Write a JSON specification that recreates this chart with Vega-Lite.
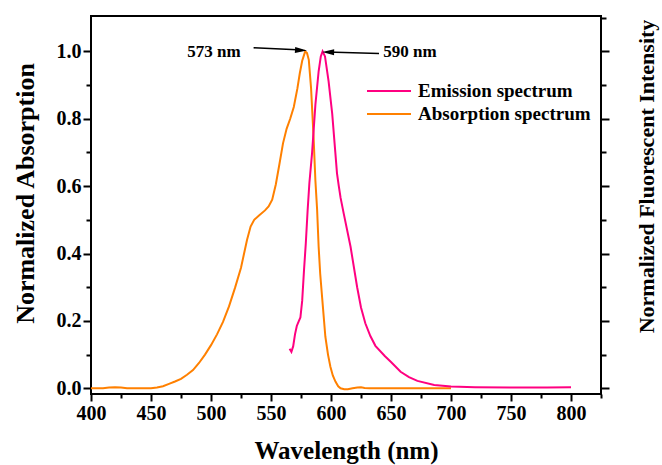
{
  "$schema": "https://vega.github.io/schema/vega-lite/v6.json",
  "width": 510,
  "height": 378,
  "autosize": {"type": "none"},
  "padding": {"left": 91, "top": 16, "right": 61, "bottom": 71},
  "background": "white",
  "config": {
    "view": {"stroke": "black", "strokeWidth": 2},
    "axis": {
      "labelFont": "Liberation Serif", "labelFontWeight": "bold", "labelColor": "black",
      "titleFont": "Liberation Serif", "titleFontWeight": "bold", "titleColor": "black",
      "domain": false, "grid": false, "tickColor": "black", "tickWidth": 2, "labelFlush": false
    },
    "text": {"font": "Liberation Serif", "fontWeight": "bold", "fontSize": 17, "color": "black"}
  },
  "datasets": {
    "spectra": [
      {"series": "Absorption spectrum", "wavelength": 400, "value": 0.0},
      {"series": "Absorption spectrum", "wavelength": 410, "value": 0.0},
      {"series": "Absorption spectrum", "wavelength": 415, "value": 0.002},
      {"series": "Absorption spectrum", "wavelength": 420, "value": 0.003},
      {"series": "Absorption spectrum", "wavelength": 425, "value": 0.002},
      {"series": "Absorption spectrum", "wavelength": 430, "value": 0.0},
      {"series": "Absorption spectrum", "wavelength": 440, "value": 0.0},
      {"series": "Absorption spectrum", "wavelength": 450, "value": 0.0},
      {"series": "Absorption spectrum", "wavelength": 455, "value": 0.002},
      {"series": "Absorption spectrum", "wavelength": 460, "value": 0.006},
      {"series": "Absorption spectrum", "wavelength": 465, "value": 0.013},
      {"series": "Absorption spectrum", "wavelength": 470, "value": 0.02},
      {"series": "Absorption spectrum", "wavelength": 475, "value": 0.028},
      {"series": "Absorption spectrum", "wavelength": 480, "value": 0.04},
      {"series": "Absorption spectrum", "wavelength": 485, "value": 0.054},
      {"series": "Absorption spectrum", "wavelength": 490, "value": 0.075},
      {"series": "Absorption spectrum", "wavelength": 495, "value": 0.1},
      {"series": "Absorption spectrum", "wavelength": 500, "value": 0.128},
      {"series": "Absorption spectrum", "wavelength": 505, "value": 0.16},
      {"series": "Absorption spectrum", "wavelength": 510, "value": 0.197},
      {"series": "Absorption spectrum", "wavelength": 515, "value": 0.243},
      {"series": "Absorption spectrum", "wavelength": 520, "value": 0.298},
      {"series": "Absorption spectrum", "wavelength": 525, "value": 0.358},
      {"series": "Absorption spectrum", "wavelength": 530, "value": 0.44},
      {"series": "Absorption spectrum", "wavelength": 533, "value": 0.48},
      {"series": "Absorption spectrum", "wavelength": 536, "value": 0.5},
      {"series": "Absorption spectrum", "wavelength": 540, "value": 0.513},
      {"series": "Absorption spectrum", "wavelength": 545, "value": 0.528},
      {"series": "Absorption spectrum", "wavelength": 548, "value": 0.54},
      {"series": "Absorption spectrum", "wavelength": 551, "value": 0.56},
      {"series": "Absorption spectrum", "wavelength": 554, "value": 0.605},
      {"series": "Absorption spectrum", "wavelength": 557, "value": 0.665},
      {"series": "Absorption spectrum", "wavelength": 560, "value": 0.727},
      {"series": "Absorption spectrum", "wavelength": 563, "value": 0.77},
      {"series": "Absorption spectrum", "wavelength": 566, "value": 0.8},
      {"series": "Absorption spectrum", "wavelength": 569, "value": 0.835},
      {"series": "Absorption spectrum", "wavelength": 572, "value": 0.89},
      {"series": "Absorption spectrum", "wavelength": 574, "value": 0.935},
      {"series": "Absorption spectrum", "wavelength": 576, "value": 0.972},
      {"series": "Absorption spectrum", "wavelength": 578.5, "value": 1.0},
      {"series": "Absorption spectrum", "wavelength": 580, "value": 0.995},
      {"series": "Absorption spectrum", "wavelength": 581.5, "value": 0.975},
      {"series": "Absorption spectrum", "wavelength": 583.4, "value": 0.89},
      {"series": "Absorption spectrum", "wavelength": 585.5, "value": 0.744},
      {"series": "Absorption spectrum", "wavelength": 587, "value": 0.616},
      {"series": "Absorption spectrum", "wavelength": 588.4, "value": 0.532},
      {"series": "Absorption spectrum", "wavelength": 589.7, "value": 0.42},
      {"series": "Absorption spectrum", "wavelength": 591, "value": 0.34},
      {"series": "Absorption spectrum", "wavelength": 592.6, "value": 0.27},
      {"series": "Absorption spectrum", "wavelength": 595.3, "value": 0.153},
      {"series": "Absorption spectrum", "wavelength": 597.5, "value": 0.1},
      {"series": "Absorption spectrum", "wavelength": 599.5, "value": 0.064},
      {"series": "Absorption spectrum", "wavelength": 601.5, "value": 0.038},
      {"series": "Absorption spectrum", "wavelength": 603.7, "value": 0.02},
      {"series": "Absorption spectrum", "wavelength": 606, "value": 0.006},
      {"series": "Absorption spectrum", "wavelength": 608, "value": 0.0},
      {"series": "Absorption spectrum", "wavelength": 611, "value": -0.003},
      {"series": "Absorption spectrum", "wavelength": 614, "value": -0.003},
      {"series": "Absorption spectrum", "wavelength": 618, "value": 0.0},
      {"series": "Absorption spectrum", "wavelength": 622, "value": 0.002},
      {"series": "Absorption spectrum", "wavelength": 625, "value": 0.003},
      {"series": "Absorption spectrum", "wavelength": 628, "value": 0.001},
      {"series": "Absorption spectrum", "wavelength": 632, "value": 0.0},
      {"series": "Absorption spectrum", "wavelength": 650, "value": 0.0},
      {"series": "Absorption spectrum", "wavelength": 700, "value": 0.0},
      {"series": "Emission spectrum", "wavelength": 565.5, "value": 0.117},
      {"series": "Emission spectrum", "wavelength": 567, "value": 0.108},
      {"series": "Emission spectrum", "wavelength": 568.5, "value": 0.125},
      {"series": "Emission spectrum", "wavelength": 570, "value": 0.16},
      {"series": "Emission spectrum", "wavelength": 571.5, "value": 0.185},
      {"series": "Emission spectrum", "wavelength": 573, "value": 0.198},
      {"series": "Emission spectrum", "wavelength": 574.5, "value": 0.21},
      {"series": "Emission spectrum", "wavelength": 576, "value": 0.26},
      {"series": "Emission spectrum", "wavelength": 577.5, "value": 0.35},
      {"series": "Emission spectrum", "wavelength": 579, "value": 0.43},
      {"series": "Emission spectrum", "wavelength": 580.5, "value": 0.527},
      {"series": "Emission spectrum", "wavelength": 582, "value": 0.61},
      {"series": "Emission spectrum", "wavelength": 584.2, "value": 0.697},
      {"series": "Emission spectrum", "wavelength": 587, "value": 0.842},
      {"series": "Emission spectrum", "wavelength": 589.7, "value": 0.941},
      {"series": "Emission spectrum", "wavelength": 591.5, "value": 0.985},
      {"series": "Emission spectrum", "wavelength": 593, "value": 1.0},
      {"series": "Emission spectrum", "wavelength": 595, "value": 0.985},
      {"series": "Emission spectrum", "wavelength": 598, "value": 0.911},
      {"series": "Emission spectrum", "wavelength": 601, "value": 0.815},
      {"series": "Emission spectrum", "wavelength": 603.6, "value": 0.7},
      {"series": "Emission spectrum", "wavelength": 605, "value": 0.638},
      {"series": "Emission spectrum", "wavelength": 606.5, "value": 0.6},
      {"series": "Emission spectrum", "wavelength": 608, "value": 0.565},
      {"series": "Emission spectrum", "wavelength": 610.7, "value": 0.517},
      {"series": "Emission spectrum", "wavelength": 616.3, "value": 0.42},
      {"series": "Emission spectrum", "wavelength": 621.8, "value": 0.3},
      {"series": "Emission spectrum", "wavelength": 625, "value": 0.24},
      {"series": "Emission spectrum", "wavelength": 628.6, "value": 0.193},
      {"series": "Emission spectrum", "wavelength": 632.8, "value": 0.155},
      {"series": "Emission spectrum", "wavelength": 637, "value": 0.126},
      {"series": "Emission spectrum", "wavelength": 645, "value": 0.095},
      {"series": "Emission spectrum", "wavelength": 650, "value": 0.078},
      {"series": "Emission spectrum", "wavelength": 658, "value": 0.049},
      {"series": "Emission spectrum", "wavelength": 665, "value": 0.033},
      {"series": "Emission spectrum", "wavelength": 672, "value": 0.022},
      {"series": "Emission spectrum", "wavelength": 686, "value": 0.01},
      {"series": "Emission spectrum", "wavelength": 700, "value": 0.005},
      {"series": "Emission spectrum", "wavelength": 720, "value": 0.003},
      {"series": "Emission spectrum", "wavelength": 750, "value": 0.002},
      {"series": "Emission spectrum", "wavelength": 780, "value": 0.002},
      {"series": "Emission spectrum", "wavelength": 800, "value": 0.003}
    ],
    "labels": [
      {"text": "573 nm", "wavelength": 480.3, "value": 0.982},
      {"text": "590 nm", "wavelength": 643.6, "value": 0.982}
    ],
    "arrows": [
      {"side": "right", "x1": 535.5, "y1": 1.0107, "x2": 576, "y2": 1.004},
      {"side": "left", "x1": 640, "y1": 0.9935, "x2": 596.5, "y2": 0.998}
    ],
    "heads": [
      {"side": "right", "wavelength": 575, "value": 1.0035},
      {"side": "left", "wavelength": 597.6, "value": 0.998}
    ]
  },
  "resolve": {"axis": {"x": "independent", "y": "independent"}},
  "layer": [
    {
      "data": {"name": "spectra"},
      "transform": [{"filter": "datum.series === 'Absorption spectrum'"}],
      "mark": {"type": "line", "strokeWidth": 2},
      "encoding": {
        "x": {"field": "wavelength", "type": "quantitative",
          "scale": {"domain": [400, 825], "nice": false, "zero": false},
          "axis": {"orient": "bottom", "values": [400, 450, 500, 550, 600, 650, 700, 750, 800],
            "tickSize": 7, "labelFontSize": 20, "labelPadding": 2,
            "title": "Wavelength (nm)", "titleFontSize": 25, "titleX": 255, "titleY": 64,
            "titleAlign": "center", "titleBaseline": "alphabetic"}},
        "y": {"field": "value", "type": "quantitative",
          "scale": {"domain": [-0.017, 1.105], "nice": false, "zero": false},
          "axis": {"orient": "left", "values": [0, 0.2, 0.4, 0.6, 0.8, 1.0], "format": ".1f",
            "tickSize": 8, "labelFontSize": 20, "labelPadding": 2,
            "title": "Normalized Absorption", "titleFontSize": 26, "titleAngle": -90,
            "titleX": -58, "titleY": 177, "titleAlign": "center", "titleBaseline": "alphabetic"}},
        "color": {"field": "series", "type": "nominal",
          "scale": {"domain": ["Emission spectrum", "Absorption spectrum"], "range": ["#FF0080", "#FF8000"]},
          "legend": {"orient": "none", "legendX": 286, "legendY": 63, "title": null,
            "symbolType": "M-2,0H2", "symbolSize": 484, "symbolStrokeWidth": 2,
            "labelFont": "Liberation Serif", "labelFontWeight": "bold", "labelFontSize": 19,
            "labelColor": "black", "labelOffset": 17, "labelLimit": 300, "rowPadding": 1, "padding": 0}}
      }
    },
    {
      "data": {"name": "spectra"},
      "transform": [{"filter": "datum.series === 'Emission spectrum'"}],
      "mark": {"type": "line", "strokeWidth": 2},
      "encoding": {
        "x": {"field": "wavelength", "type": "quantitative",
          "scale": {"domain": [400, 825], "nice": false, "zero": false},
          "axis": {"orient": "bottom", "values": [425, 475, 525, 575, 625, 675, 725, 775, 825],
            "tickSize": 4, "labels": false, "title": null}},
        "y": {"field": "value", "type": "quantitative",
          "scale": {"domain": [-0.017, 1.105], "nice": false, "zero": false},
          "axis": {"orient": "right", "values": [0, 0.2, 0.4, 0.6, 0.8, 1.0],
            "tickSize": 8, "labels": false,
            "title": "Normalized Fluorescent Intensity", "titleFontSize": 22, "titleAngle": -90,
            "titleX": 52, "titleY": 160, "titleAlign": "center", "titleBaseline": "alphabetic"}},
        "color": {"field": "series", "type": "nominal",
          "scale": {"domain": ["Emission spectrum", "Absorption spectrum"], "range": ["#FF0080", "#FF8000"]}}
      }
    },
    {
      "data": {"name": "labels"},
      "mark": {"type": "text", "align": "left", "baseline": "alphabetic"},
      "encoding": {
        "x": {"field": "wavelength", "type": "quantitative",
          "scale": {"domain": [400, 825], "nice": false, "zero": false}, "axis": null},
        "y": {"field": "value", "type": "quantitative",
          "scale": {"domain": [-0.017, 1.105], "nice": false, "zero": false},
          "axis": {"orient": "left", "values": [0.1, 0.3, 0.5, 0.7, 0.9], "tickSize": 5, "labels": false, "title": null}},
        "text": {"field": "text", "type": "nominal"}
      }
    },
    {
      "data": {"name": "arrows"},
      "mark": {"type": "rule", "strokeWidth": 1.6, "color": "black"},
      "encoding": {
        "x": {"field": "x1", "type": "quantitative",
          "scale": {"domain": [400, 825], "nice": false, "zero": false}, "axis": null},
        "x2": {"field": "x2"},
        "y": {"field": "y1", "type": "quantitative",
          "scale": {"domain": [-0.017, 1.105], "nice": false, "zero": false},
          "axis": {"orient": "right", "values": [0.1, 0.3, 0.5, 0.7, 0.9, 1.1], "tickSize": 5, "labels": false, "title": null}},
        "y2": {"field": "y2"}
      }
    },
    {
      "data": {"name": "heads"},
      "transform": [{"filter": "datum.side === 'right'"}],
      "mark": {"type": "point", "shape": "M1,0L-1,-0.5L-1,0.5Z", "filled": true, "size": 144, "color": "black", "opacity": 1, "angle": 3},
      "encoding": {
        "x": {"field": "wavelength", "type": "quantitative",
          "scale": {"domain": [400, 825], "nice": false, "zero": false}, "axis": null},
        "y": {"field": "value", "type": "quantitative",
          "scale": {"domain": [-0.017, 1.105], "nice": false, "zero": false}, "axis": null}
      }
    },
    {
      "data": {"name": "heads"},
      "transform": [{"filter": "datum.side === 'left'"}],
      "mark": {"type": "point", "shape": "M-1,0L1,-0.5L1,0.5Z", "filled": true, "size": 144, "color": "black", "opacity": 1, "angle": 1.5},
      "encoding": {
        "x": {"field": "wavelength", "type": "quantitative",
          "scale": {"domain": [400, 825], "nice": false, "zero": false}, "axis": null},
        "y": {"field": "value", "type": "quantitative",
          "scale": {"domain": [-0.017, 1.105], "nice": false, "zero": false}, "axis": null}
      }
    }
  ]
}
